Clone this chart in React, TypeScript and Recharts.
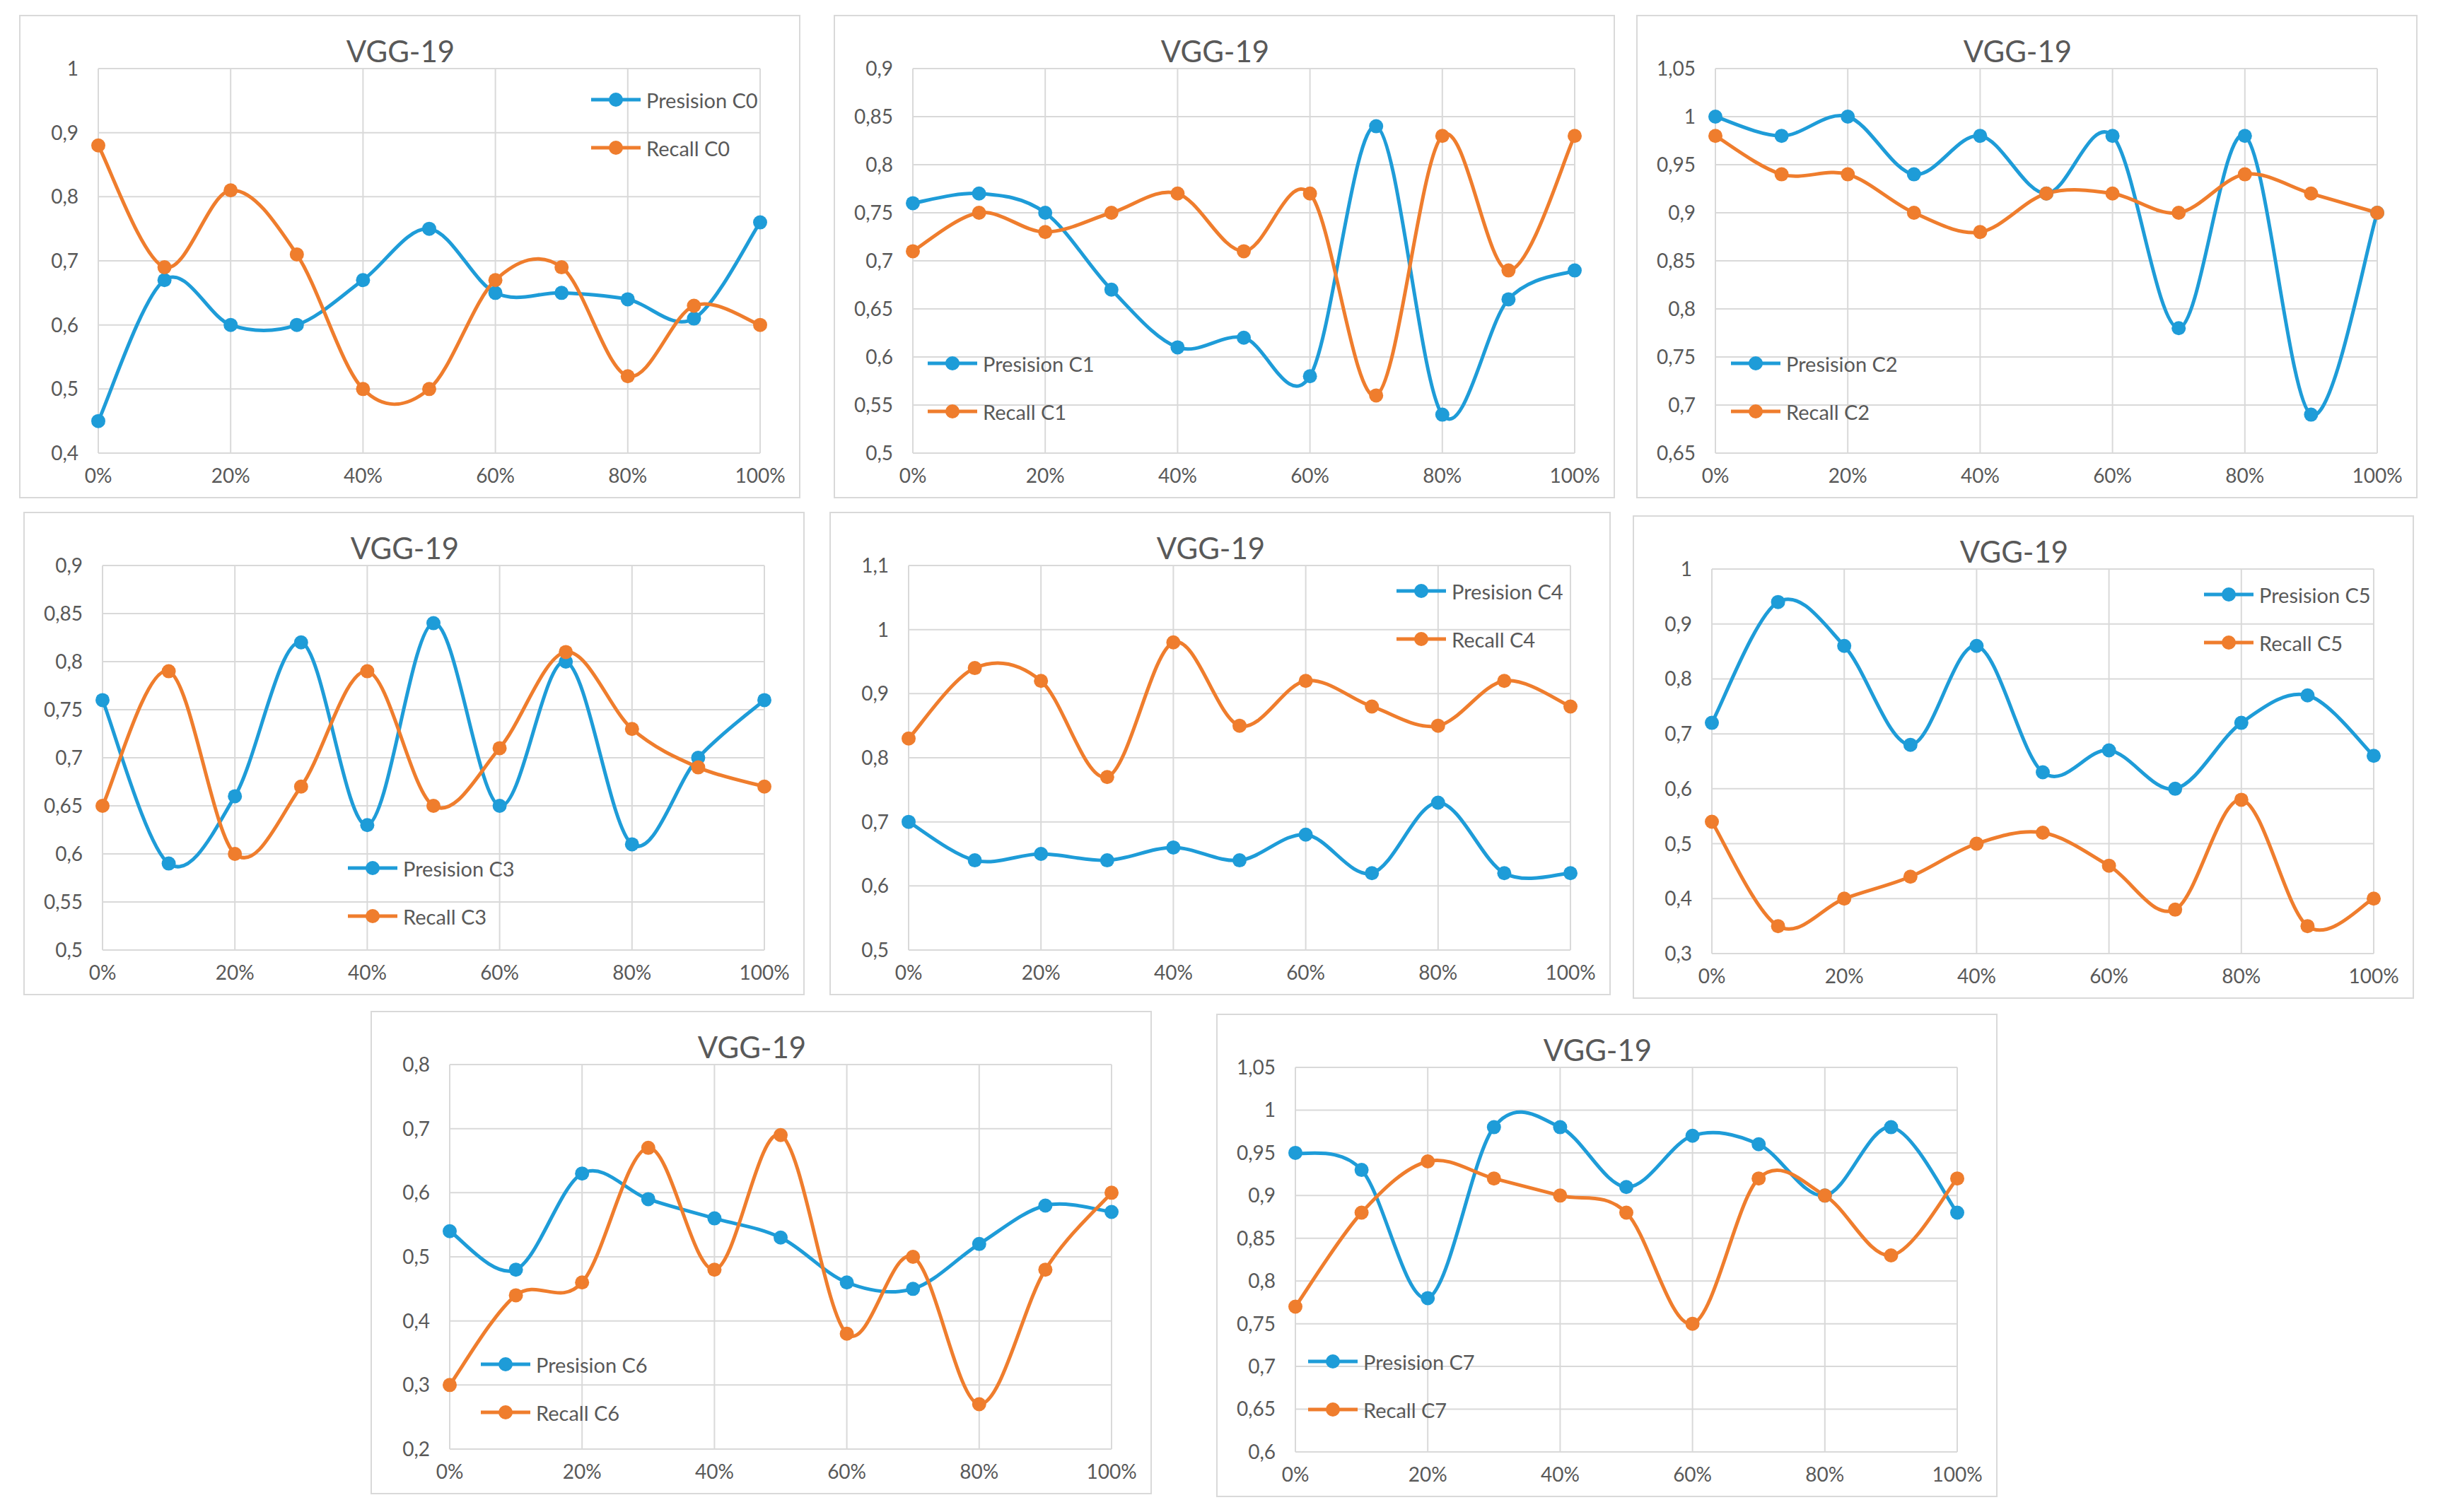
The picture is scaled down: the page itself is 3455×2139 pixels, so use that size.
import React from "react";
import { CartesianGrid, Legend, Line, LineChart, XAxis, YAxis } from "recharts";

// training fraction on the x axis (10% steps, labels every 20%)
const steps = [0, 10, 20, 30, 40, 50, 60, 70, 80, 90, 100];
const xTicks = [0, 20, 40, 60, 80, 100];

const precisionC0 = [0.45, 0.67, 0.6, 0.6, 0.67, 0.75, 0.65, 0.65, 0.64, 0.61, 0.76];
const recallC0 = [0.88, 0.69, 0.81, 0.71, 0.5, 0.5, 0.67, 0.69, 0.52, 0.63, 0.6];
const ticksC0 = [0.4, 0.5, 0.6, 0.7, 0.8, 0.9, 1];

const precisionC1 = [0.76, 0.77, 0.75, 0.67, 0.61, 0.62, 0.58, 0.84, 0.54, 0.66, 0.69];
const recallC1 = [0.71, 0.75, 0.73, 0.75, 0.77, 0.71, 0.77, 0.56, 0.83, 0.69, 0.83];
const ticksC1 = [0.5, 0.55, 0.6, 0.65, 0.7, 0.75, 0.8, 0.85, 0.9];

const precisionC2 = [1.0, 0.98, 1.0, 0.94, 0.98, 0.92, 0.98, 0.78, 0.98, 0.69, 0.9];
const recallC2 = [0.98, 0.94, 0.94, 0.9, 0.88, 0.92, 0.92, 0.9, 0.94, 0.92, 0.9];
const ticksC2 = [0.65, 0.7, 0.75, 0.8, 0.85, 0.9, 0.95, 1, 1.05];

const precisionC3 = [0.76, 0.59, 0.66, 0.82, 0.63, 0.84, 0.65, 0.8, 0.61, 0.7, 0.76];
const recallC3 = [0.65, 0.79, 0.6, 0.67, 0.79, 0.65, 0.71, 0.81, 0.73, 0.69, 0.67];
const ticksC3 = [0.5, 0.55, 0.6, 0.65, 0.7, 0.75, 0.8, 0.85, 0.9];

const precisionC4 = [0.7, 0.64, 0.65, 0.64, 0.66, 0.64, 0.68, 0.62, 0.73, 0.62, 0.62];
const recallC4 = [0.83, 0.94, 0.92, 0.77, 0.98, 0.85, 0.92, 0.88, 0.85, 0.92, 0.88];
const ticksC4 = [0.5, 0.6, 0.7, 0.8, 0.9, 1, 1.1];

const precisionC5 = [0.72, 0.94, 0.86, 0.68, 0.86, 0.63, 0.67, 0.6, 0.72, 0.77, 0.66];
const recallC5 = [0.54, 0.35, 0.4, 0.44, 0.5, 0.52, 0.46, 0.38, 0.58, 0.35, 0.4];
const ticksC5 = [0.3, 0.4, 0.5, 0.6, 0.7, 0.8, 0.9, 1];

const precisionC6 = [0.54, 0.48, 0.63, 0.59, 0.56, 0.53, 0.46, 0.45, 0.52, 0.58, 0.57];
const recallC6 = [0.3, 0.44, 0.46, 0.67, 0.48, 0.69, 0.38, 0.5, 0.27, 0.48, 0.6];
const ticksC6 = [0.2, 0.3, 0.4, 0.5, 0.6, 0.7, 0.8];

const precisionC7 = [0.95, 0.93, 0.78, 0.98, 0.98, 0.91, 0.97, 0.96, 0.9, 0.98, 0.88];
const recallC7 = [0.77, 0.88, 0.94, 0.92, 0.9, 0.88, 0.75, 0.92, 0.9, 0.83, 0.92];
const ticksC7 = [0.6, 0.65, 0.7, 0.75, 0.8, 0.85, 0.9, 0.95, 1, 1.05];

const BLUE = "#1E9CD8";
const ORANGE = "#EF7D2D";
const GRID = "#d9d9d9";
const TEXT = "#595959";
const FONT = "Lato, 'Open Sans', sans-serif";

const PANEL_W = 1105;
const PANEL_H = 684;

// Excel-like smoothed line (Catmull-Rom as cubic beziers)
function excelSmooth(context: any) {
  let pts: number[][] = [];
  return {
    areaStart() {},
    areaEnd() {},
    lineStart() {
      pts = [];
    },
    point(x: number, y: number) {
      pts.push([+x, +y]);
    },
    lineEnd() {
      const n = pts.length;
      if (!n) return;
      context.moveTo(pts[0][0], pts[0][1]);
      for (let i = 0; i < n - 1; i++) {
        const p0 = pts[Math.max(i - 1, 0)];
        const p1 = pts[i];
        const p2 = pts[i + 1];
        const p3 = pts[Math.min(i + 2, n - 1)];
        context.bezierCurveTo(
          p1[0] + (p2[0] - p0[0]) / 6,
          p1[1] + (p2[1] - p0[1]) / 6,
          p2[0] - (p3[0] - p1[0]) / 6,
          p2[1] - (p3[1] - p1[1]) / 6,
          p2[0],
          p2[1]
        );
      }
    },
  };
}

const fmtTick = (v: number) => String(Math.round(v * 100) / 100).replace(".", ",");

type Panel = {
  cls: string;
  precision: number[];
  recall: number[];
  ticks: number[];
  left: number;
  top: number;
  legend: { x: number; y: number };
};

const panels: Panel[] = [
  { cls: "C0", precision: precisionC0, recall: recallC0, ticks: ticksC0, left: 27, top: 21, legend: { x: 807, y: 84 } },
  { cls: "C1", precision: precisionC1, recall: recallC1, ticks: ticksC1, left: 1179, top: 21, legend: { x: 131, y: 457 } },
  { cls: "C2", precision: precisionC2, recall: recallC2, ticks: ticksC2, left: 2314, top: 21, legend: { x: 132, y: 457 } },
  { cls: "C3", precision: precisionC3, recall: recallC3, ticks: ticksC3, left: 33, top: 724, legend: { x: 457, y: 468 } },
  { cls: "C4", precision: precisionC4, recall: recallC4, ticks: ticksC4, left: 1173, top: 724, legend: { x: 800, y: 76 } },
  { cls: "C5", precision: precisionC5, recall: recallC5, ticks: ticksC5, left: 2309, top: 729, legend: { x: 806, y: 76 } },
  { cls: "C6", precision: precisionC6, recall: recallC6, ticks: ticksC6, left: 524, top: 1430, legend: { x: 154, y: 464 } },
  { cls: "C7", precision: precisionC7, recall: recallC7, ticks: ticksC7, left: 1720, top: 1434, legend: { x: 128, y: 456 } },
];

function LegendBox({ payload }: any) {
  return (
    <div style={{ fontFamily: FONT, fontSize: 29, color: TEXT, whiteSpace: "nowrap" }}>
      {(payload || []).map((entry: any) => (
        <div key={entry.value} style={{ display: "flex", alignItems: "center", height: 68 }}>
          <svg width={70} height={24} style={{ marginRight: 8 }}>
            <line x1={0} y1={12} x2={70} y2={12} stroke={entry.color} strokeWidth={5} />
            <circle cx={35} cy={12} r={10} fill={entry.color} />
          </svg>
          <span>{entry.value}</span>
        </div>
      ))}
    </div>
  );
}

function VggChart({ p }: { p: Panel }) {
  const rows = steps.map((s, i) => ({ x: s, precision: p.precision[i], recall: p.recall[i] }));
  const lo = p.ticks[0];
  const hi = p.ticks[p.ticks.length - 1];
  return (
    <div
      style={{
        position: "absolute",
        left: p.left,
        top: p.top,
        width: PANEL_W,
        height: PANEL_H,
        border: `2px solid ${GRID}`,
        boxSizing: "border-box",
        background: "#fff",
      }}
    >
      <div
        style={{
          position: "absolute",
          left: 0,
          top: 26,
          width: PANEL_W - 30,
          textAlign: "center",
          fontFamily: FONT,
          fontSize: 42,
          color: TEXT,
          lineHeight: "46px",
        }}
      >
        VGG-19
      </div>
      <LineChart
        width={PANEL_W - 4}
        height={PANEL_H - 4}
        data={rows}
        margin={{ top: 74, right: 55, bottom: 0, left: 0 }}
      >
        <CartesianGrid stroke={GRID} strokeWidth={2} />
        <XAxis
          dataKey="x"
          type="number"
          domain={[0, 100]}
          ticks={xTicks}
          tickFormatter={(v) => `${v}%`}
          tick={{ fill: TEXT, fontSize: 28, fontFamily: FONT }}
          tickLine={false}
          axisLine={{ stroke: GRID, strokeWidth: 2 }}
          tickMargin={16}
          height={62}
        />
        <YAxis
          type="number"
          domain={[lo, hi]}
          ticks={p.ticks}
          tickFormatter={fmtTick}
          tick={{ fill: TEXT, fontSize: 28, fontFamily: FONT }}
          tickLine={false}
          axisLine={false}
          tickMargin={22}
          width={110}
          allowDataOverflow
        />
        <Legend
          layout="vertical"
          verticalAlign="middle"
          align="center"
          content={<LegendBox />}
          wrapperStyle={{ left: p.legend.x, top: p.legend.y, width: "auto" }}
        />
        <Line
          dataKey="precision"
          name={`Presision ${p.cls}`}
          type={excelSmooth as any}
          stroke={BLUE}
          strokeWidth={5}
          dot={{ r: 10, fill: BLUE, stroke: BLUE, strokeWidth: 0 }}
          activeDot={false}
          isAnimationActive={false}
        />
        <Line
          dataKey="recall"
          name={`Recall ${p.cls}`}
          type={excelSmooth as any}
          stroke={ORANGE}
          strokeWidth={5}
          dot={{ r: 10, fill: ORANGE, stroke: ORANGE, strokeWidth: 0 }}
          activeDot={false}
          isAnimationActive={false}
        />
      </LineChart>
    </div>
  );
}

export default function App() {
  return (
    <div style={{ position: "absolute", left: 0, top: 0, width: 3455, height: 2139, background: "#fff" }}>
      {panels.map((p) => (
        <VggChart key={p.cls} p={p} />
      ))}
    </div>
  );
}
